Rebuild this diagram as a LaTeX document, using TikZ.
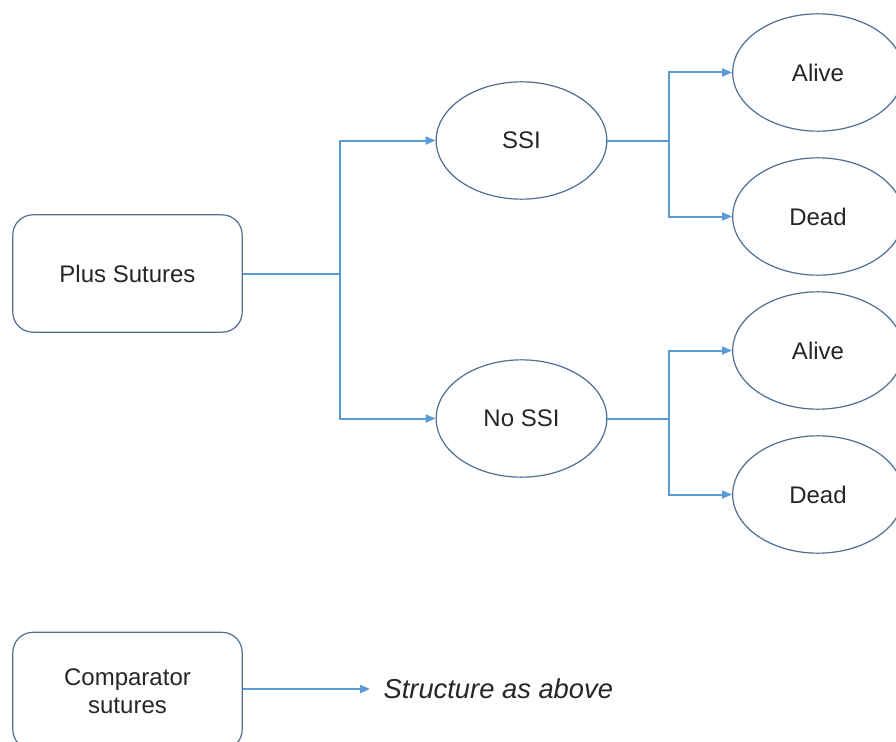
\documentclass[tikz,border=0pt]{standalone}
\usepackage{fontspec}
\setmainfont{Liberation Sans}
\usetikzlibrary{shapes.geometric,arrows.meta}

\definecolor{linkblue}{HTML}{5B9BD5}
\definecolor{edgeblue}{HTML}{4F6F93}

\tikzset{
    stagebox/.style={draw=edgeblue, line width=0.9pt, rounded corners=15pt,
        minimum width=172pt, minimum height=88pt, inner sep=0pt, align=center,
        font=\fontsize{18}{21}\selectfont, text=black!85},
    outcome/.style={draw=edgeblue, line width=0.9pt, ellipse,
        minimum width=128pt, minimum height=88pt, inner sep=0pt,
        font=\fontsize{18}{21}\selectfont, text=black!85},
    link/.style={draw=linkblue, line width=1.5pt},
    tip/.style={-{Triangle[length=7.5pt,width=6pt]}}
}

\begin{document}
\begin{tikzpicture}[x=0.75pt, y=-0.75pt]
            \clip (0,0) rectangle (896,742);
            \fill[white] (0,0) rectangle (896,742);

            % first arm
            \node[stagebox] (plus) at (127.5,273.5) {Plus Sutures};
            \node[outcome] (ssi) at (521.5,140.5) {SSI};
            \node[outcome] (nossi) at (521.5,418.5) {No SSI};
            \coordinate (split) at (340,273.5);

            \draw[link] (plus.east) -- (split);
            \draw[link, tip] (split) |- (ssi.west);
            \draw[link, tip] (split) |- (nossi.west);

            % outcomes
            \foreach \grp/\y in {ssi/140.5, nossi/418.5} {
                \node[outcome] (\grp-alive) at (818, \y-68) {Alive};
                \node[outcome] (\grp-dead) at (818, \y+76) {Dead};
                \coordinate (\grp-fork) at (669, \y);
                \draw[link] (\grp.east) -- (\grp-fork);
                \draw[link, tip] (\grp-fork) |- (\grp-alive.west);
                \draw[link, tip] (\grp-fork) |- (\grp-dead.west);
            }

            % second arm
            \node[stagebox] (comp) at (127.5,691) {Comparator\\sutures};
            \node[anchor=west, inner sep=0pt, inner xsep=10pt, text=black!85,
                font=\fontsize{20.5}{24}\selectfont\itshape] (same) at (370,689) {Structure as above};
            \draw[link, tip] (comp.east |- same.west) -- (same.west);
        \end{tikzpicture}
\end{document}
